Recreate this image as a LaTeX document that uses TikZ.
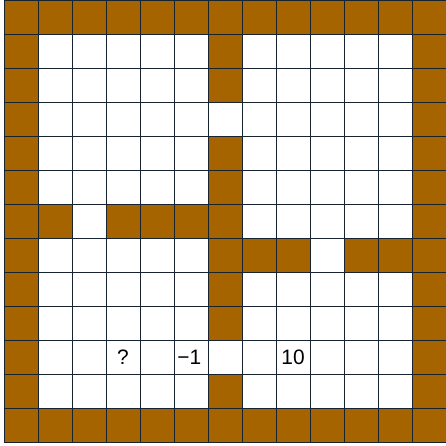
\documentclass[tikz,border=0pt]{standalone}
\usepackage{fontspec}
\setmainfont{Liberation Sans}
\definecolor{wallc}{HTML}{A66400}
\definecolor{gridc}{HTML}{17232F}
\begin{document}
\begin{tikzpicture}[x=1cm,y=1cm,
  wall/.style={fill=wallc},
  lbl/.style={font=\fontsize{17.5}{20}\selectfont, inner sep=0pt}]
\useasboundingbox (-0.118,-0.118) rectangle (13,13);
\fill[white] (-0.118,-0.118) rectangle (13,13);
% walls: row r (0=top), col c
\foreach \c in {0,...,12} {
  \fill[wall] (\c,12) rectangle ++(1,1);
  \fill[wall] (\c,0) rectangle ++(1,1);
}
\foreach \r in {1,...,11} {
  \fill[wall] (0,12-\r) rectangle ++(1,1);
  \fill[wall] (12,12-\r) rectangle ++(1,1);
}
\foreach \c in {1,3,4,5,6} { \fill[wall] (\c,12-6) rectangle ++(1,1); }
\foreach \c in {6,7,8,10,11} { \fill[wall] (\c,12-7) rectangle ++(1,1); }
\foreach \r in {1,2,4,5,8,9,11} { \fill[wall] (6,12-\r) rectangle ++(1,1); }
\draw[gridc, line width=0.7pt] (0,0) grid (13,13);
\node[lbl] (q) at (3.5,2.5) {?};
\node[lbl] (m) at (5.45,2.5) {\char"2212 1};
\node[lbl] (t) at (8.5,2.5) {10};
\end{tikzpicture}
\end{document}
